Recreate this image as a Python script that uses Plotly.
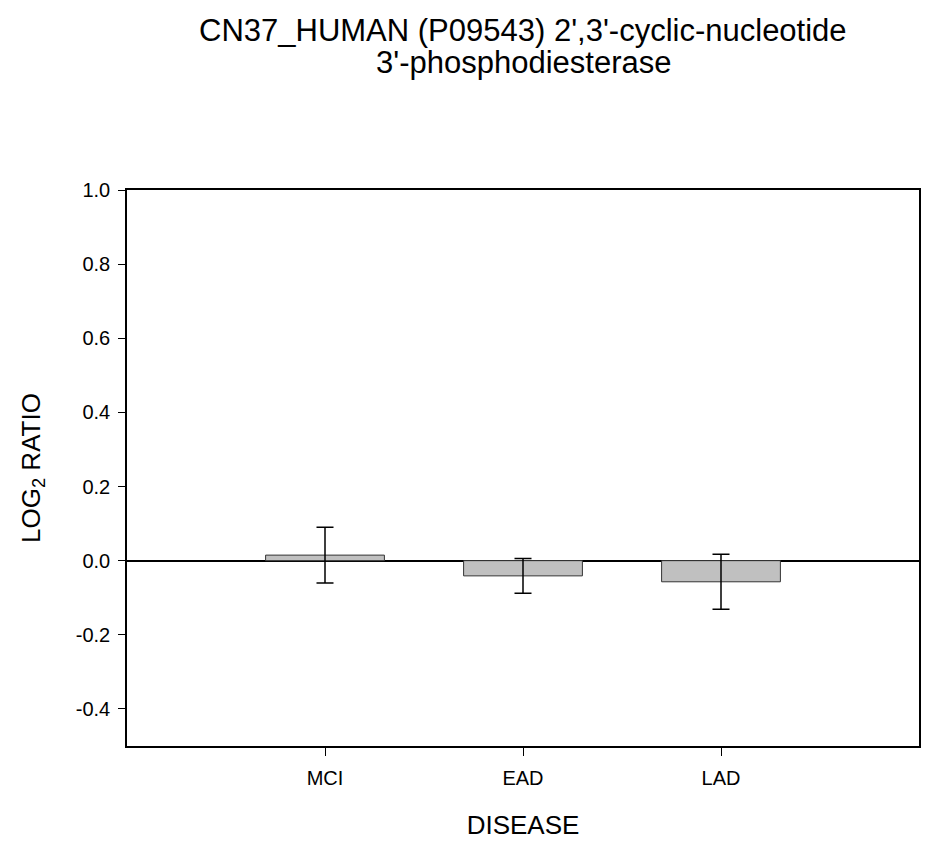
import plotly.graph_objects as go

categories = ["MCI", "EAD", "LAD"]
means = [0.015, -0.041, -0.057]
errors = [0.075, 0.047, 0.074]
y_ticks = [-0.4, -0.2, 0.0, 0.2, 0.4, 0.6, 0.8, 1.0]
y_tick_text = [f"{v:.1f}" for v in y_ticks]
title_lines = ["CN37_HUMAN (P09543) 2',3'-cyclic-nucleotide", "3'-phosphodiesterase"]

font_family = "Liberation Sans, Arial, sans-serif"

fig = go.Figure()
fig.add_trace(go.Bar(
    x=categories, y=means, width=0.6,
    marker=dict(color="#c0c0c0", line=dict(color="#333333", width=1)),
    error_y=dict(type="data", array=errors, visible=True, color="black", thickness=1.5, width=8.5),
    showlegend=False,
))

W, H = 932, 842
L, R, T, B = 119, 21, 182, 104
ph = H - T - B

def paper_y(fig_px):
    return (H - B - fig_px) / ph

annotations = []
for line, ypx in zip(title_lines, [22, 54]):
    annotations.append(dict(
        text=line, xref="paper", yref="paper", x=0.5, y=paper_y(ypx),
        xanchor="center", yanchor="middle", showarrow=False,
        font=dict(size=31, family=font_family, color="black"),
    ))

fig.update_layout(
    width=W, height=H,
    paper_bgcolor="white", plot_bgcolor="white",
    margin=dict(l=L, r=R, t=T, b=B),
    font=dict(family=font_family, color="black"),
    annotations=annotations,
)
fig.update_xaxes(
    type="category", range=[-1, 3],
    showline=True, linecolor="black", linewidth=1.5, mirror=True,
    ticks="outside", ticklen=8, tickwidth=1, tickcolor="black",
    tickfont=dict(size=20), showgrid=False, ticklabelstandoff=5,
    title=dict(text="DISEASE", font=dict(size=26), standoff=28),
)
fig.update_yaxes(
    range=[-0.5, 1.0], tickvals=y_ticks, ticktext=y_tick_text,
    showline=True, linecolor="black", linewidth=1.5, mirror=True,
    ticks="outside", ticklen=7, tickwidth=1, tickcolor="black",
    tickfont=dict(size=20), showgrid=False, ticklabelstandoff=4,
    zeroline=True, zerolinecolor="black", zerolinewidth=1.5,
    title=dict(text="LOG<sub>2</sub> RATIO", font=dict(size=26), standoff=28),
)

fig.write_html("out.html")
